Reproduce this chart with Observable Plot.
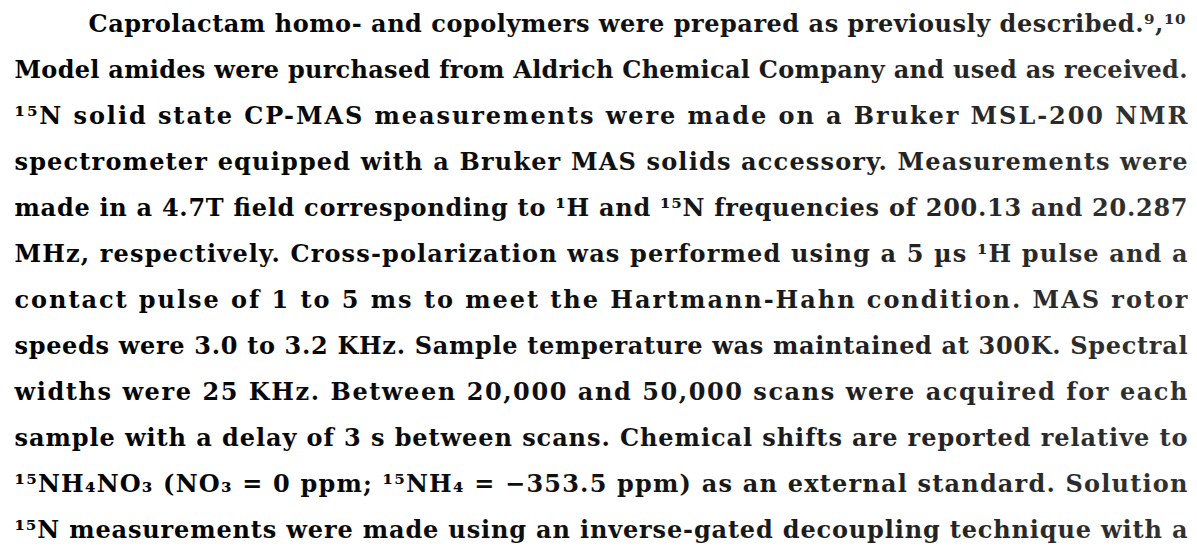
<!DOCTYPE html>
<html>
<head>
<meta charset="utf-8">
<script src="https://cdn.jsdelivr.net/npm/d3@7"></script>
<script src="https://cdn.jsdelivr.net/npm/@observablehq/plot@0.6"></script>
<style>
  html, body { margin: 0; padding: 0; background: #fff; }
  #chart { width: 1197px; height: 552px; overflow: hidden; }
</style>
</head>
<body>
<div id="chart"></div>
<script>
// Lines of the scanned paragraph (text content)
const lines = [
  "Caprolactam homo- and copolymers were prepared as previously described.\u2079,\u00b9\u2070",
  "Model amides were purchased from Aldrich Chemical Company and used as received.",
  "\u00b9\u2075N solid state CP-MAS measurements were made on a Bruker MSL-200 NMR",
  "spectrometer equipped with a Bruker MAS solids accessory. Measurements were",
  "made in a 4.7T field corresponding to \u00b9H and \u00b9\u2075N frequencies of 200.13 and 20.287",
  "MHz, respectively. Cross-polarization was performed using a 5 \u00b5s \u00b9H pulse and a",
  "contact pulse of 1 to 5 ms to meet the Hartmann-Hahn condition. MAS rotor",
  "speeds were 3.0 to 3.2 KHz. Sample temperature was maintained at 300K. Spectral",
  "widths were 25 KHz. Between 20,000 and 50,000 scans were acquired for each",
  "sample with a delay of 3 s between scans. Chemical shifts are reported relative to",
  "\u00b9\u2075NH\u2084NO\u2083 (NO\u2083 = 0 ppm; \u00b9\u2075NH\u2084 = \u2212353.5 ppm) as an external standard. Solution",
  "\u00b9\u2075N measurements were made using an inverse-gated decoupling technique with a"
];
const lineIndex = lines.map((_, i) => i);
const paragraphStart = [true, false, false, false, false, false, false, false, false, false, false, false];

const W = 1197, H = 552;
const left = 14, right = 1187, indent = 88, firstRight = 1185;
const data = lineIndex.map(i => ({i, text: lines[i], first: paragraphStart[i]}));

const plot = Plot.plot({
  width: W,
  height: H,
  margin: 0,
  x: {domain: [0, W], range: [0, W], axis: null},
  y: {type: "point", domain: lineIndex, range: [19, 535], padding: 0, axis: null},
  style: {background: "#fff", fontFamily: "'DejaVu Serif', serif"},
  marks: [
    Plot.text(data.filter(d => !d.first), {
      frameAnchor: "left", dx: left, y: "i", text: "text",
      textAnchor: "start", lineAnchor: "middle",
      fontSize: 24, fontWeight: "bold", fill: "url(#fade)"
    }),
    Plot.text(data.filter(d => d.first), {
      frameAnchor: "left", dx: indent, y: "i", text: "text",
      textAnchor: "start", lineAnchor: "middle",
      fontSize: 24, fontWeight: "bold", fill: "url(#fade)"
    })
  ]
});
document.getElementById("chart").appendChild(plot);

// scan is darker on the left, slightly lighter towards the right
const defs = d3.select(plot).insert("defs", ":first-child");
const grad = defs.append("linearGradient")
  .attr("id", "fade").attr("gradientUnits", "userSpaceOnUse")
  .attr("x1", 0).attr("x2", W).attr("y1", 0).attr("y2", 0);
grad.append("stop").attr("offset", "0").attr("stop-color", "#000");
grad.append("stop").attr("offset", "0.5").attr("stop-color", "#111");
grad.append("stop").attr("offset", "1").attr("stop-color", "#333");

// justify each line to the right margin (as in the typeset original)
const groups = plot.querySelectorAll("g[aria-label='text']");
groups.forEach((g, gi) => {
  const start = gi === 0 ? left : indent;
  const end = gi === 0 ? right : firstRight;
  g.querySelectorAll("text").forEach(t => {
    t.setAttribute("textLength", end - start);
    t.setAttribute("lengthAdjust", "spacing");
  });
});
</script>
</body>
</html>
